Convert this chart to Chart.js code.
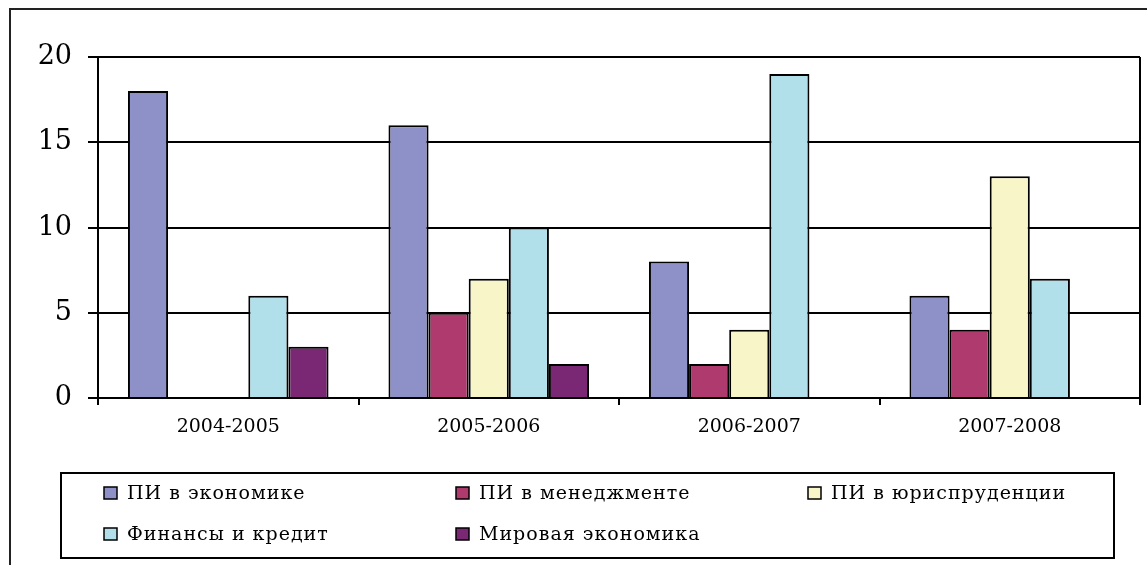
<!DOCTYPE html>
<html>
<head>
<meta charset="utf-8">
<script src="https://cdn.jsdelivr.net/npm/chart.js@4.4.1/dist/chart.umd.min.js"></script>
<style>
  html, body { margin: 0; padding: 0; background: #fff; }
  canvas { display: block; }
</style>
</head>
<body>
<canvas id="chart" width="1147" height="565"></canvas>
<script>
const years = ["2004-2005", "2005-2006", "2006-2007", "2007-2008"];
const seriesNames = ["ПИ в экономике", "ПИ в менеджменте", "ПИ в юриспруденции", "Финансы и кредит", "Мировая экономика"];
const economics = [18, 16, 8, 6];
const management = [0, 5, 2, 4];
const law = [0, 7, 4, 13];
const finance = [6, 10, 19, 7];
const worldEcon = [3, 2, 0, 0];
const yTicks = [0, 5, 10, 15, 20];

const colors = ["#8e90c8", "#ae3a6e", "#f8f6c8", "#b2e0ea", "#7a2874"];
const serif = "'DejaVu Serif', 'Liberation Serif', serif";

// frame lines + right edge of the plot area
const framePlugin = {
    id: "frame",
    afterDraw(chart) {
        const ctx = chart.ctx;
        const a = chart.chartArea;
        ctx.save();
        ctx.strokeStyle = "#222";
        ctx.lineWidth = 2;
        ctx.beginPath();
        ctx.moveTo(10, 565);
        ctx.lineTo(10, 9);
        ctx.lineTo(1147, 9);
        ctx.stroke();
        ctx.strokeStyle = "#000";
        ctx.beginPath();
        ctx.moveTo(a.right, a.top);
        ctx.lineTo(a.right, a.bottom);
        ctx.stroke();
        ctx.restore();
    }
};

// legend laid out in a 3-column grid inside a box
const legendPlugin = {
    id: "gridLegend",
    afterDraw(chart) {
        const ctx = chart.ctx;
        const cols = [104, 456, 808];
        const rows = [493, 534];
        ctx.save();
        ctx.strokeStyle = "#000";
        ctx.lineWidth = 2;
        ctx.strokeRect(61, 473, 1053, 85);
        ctx.font = "19px " + serif;
        ctx.textBaseline = "middle";
        ctx.letterSpacing = "1px";
        chart.data.datasets.forEach((ds, i) => {
            const x = cols[i % 3];
            const y = rows[Math.floor(i / 3)];
            ctx.fillStyle = ds.backgroundColor;
            ctx.fillRect(x, y - 6, 13, 12);
            ctx.lineWidth = 1.5;
            ctx.strokeStyle = "#000";
            ctx.strokeRect(x, y - 6, 13, 12);
            ctx.fillStyle = "#000";
            ctx.fillText(ds.label, x + 23, y + 1);
        });
        ctx.restore();
    }
};

const data = [economics, management, law, finance, worldEcon];

new Chart(document.getElementById("chart"), {
    type: "bar",
    data: {
        labels: years,
        datasets: seriesNames.map((name, i) => ({
            label: name,
            data: data[i],
            backgroundColor: colors[i],
            borderColor: "#000",
            borderWidth: 2,
            borderSkipped: "bottom",
            categoryPercentage: 0.77,
            barPercentage: 1
        }))
    },
    options: {
        responsive: false,
        animation: false,
        devicePixelRatio: 1,
        layout: { padding: { top: 57, right: 7, left: 0, bottom: 107 } },
        plugins: {
            legend: { display: false },
            title: { display: false },
            tooltip: { enabled: false }
        },
        scales: {
            x: {
                afterFit: (s) => { s.height = 60; },
                grid: {
                    offset: true,
                    drawOnChartArea: false,
                    drawTicks: true,
                    tickLength: 7,
                    color: "#000",
                    lineWidth: 2
                },
                border: { color: "#000", width: 2 },
                ticks: {
                    color: "#000",
                    padding: 11,
                    font: { family: serif, size: 19 }
                }
            },
            y: {
                min: 0,
                max: 20,
                afterFit: (s) => { s.width = 98; },
                afterBuildTicks: (s) => { s.ticks = yTicks.map(v => ({ value: v })); },
                grid: {
                    color: "#000",
                    lineWidth: 2,
                    tickLength: 10
                },
                border: { color: "#000", width: 2 },
                ticks: {
                    color: "#000",
                    padding: 16,
                    font: { family: serif, size: 27 }
                }
            }
        }
    },
    plugins: [framePlugin, legendPlugin]
});
</script>
</body>
</html>
